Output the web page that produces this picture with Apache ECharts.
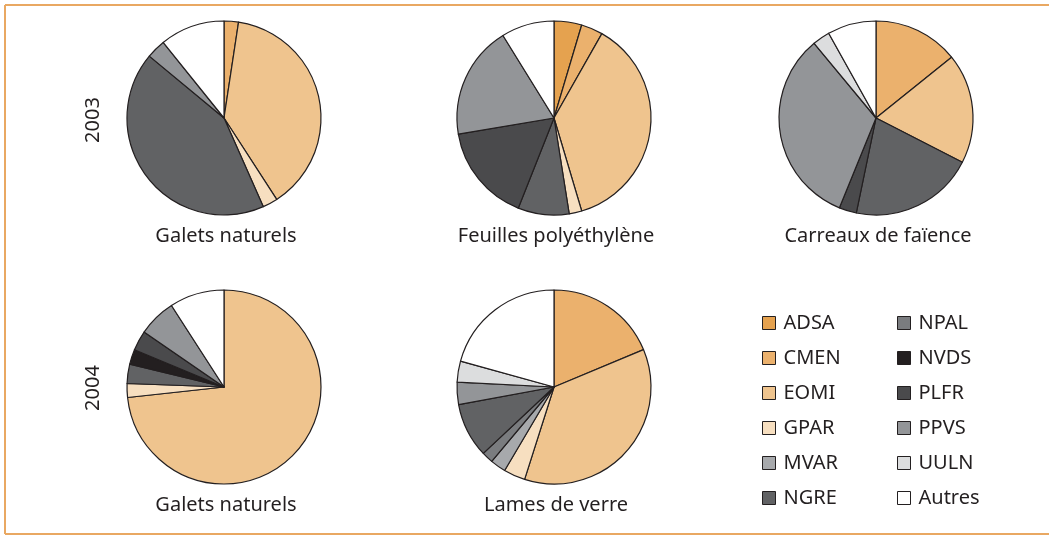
<!DOCTYPE html>
<html>
<head>
<meta charset="utf-8">
<script src="https://cdn.jsdelivr.net/npm/echarts@6/dist/echarts.min.js"></script>
<style>
  html, body { margin: 0; padding: 0; background: #fff; }
  #chart { width: 1049px; height: 536px; }
</style>
</head>
<body>
<div id="chart"></div>
<script>
// legend names and colours
const names = ['ADSA', 'CMEN', 'EOMI', 'GPAR', 'MVAR', 'NGRE', 'NPAL', 'NVDS', 'PLFR', 'PPVS', 'UULN', 'Autres']
const colors = ['#e5a24f', '#ebb16d', '#efc48e', '#f7dfc0', '#a7a9ac', '#616264', '#7a7c7f', '#231f20', '#4a4a4c', '#939598', '#dcddde', '#ffffff']

// shares (%), clockwise from 12 o'clock
const galets2003Names = ['CMEN', 'EOMI', 'GPAR', 'NGRE', 'PPVS', 'Autres']
const galets2003 = [2.4, 38.5, 2.5, 42.7, 3.2, 10.8]

const feuillesNames = ['ADSA', 'CMEN', 'EOMI', 'GPAR', 'NGRE', 'PLFR', 'PPVS', 'Autres']
const feuilles = [4.6, 3.6, 37.1, 2.1, 8.5, 16.3, 18.8, 8.8]

const carreauxNames = ['CMEN', 'EOMI', 'NGRE', 'PLFR', 'PPVS', 'UULN', 'Autres']
const carreaux = [14.2, 18.3, 20.7, 2.9, 32.8, 2.9, 8.1]

const galets2004Names = ['EOMI', 'GPAR', 'NGRE', 'NVDS', 'PLFR', 'PPVS', 'Autres']
const galets2004 = [73.2, 2.3, 3.2, 2.5, 3.3, 6.3, 9.1]

const lamesNames = ['CMEN', 'EOMI', 'GPAR', 'MVAR', 'NPAL', 'NGRE', 'PPVS', 'UULN', 'Autres']
const lames = [18.7, 36.2, 3.6, 2.6, 1.9, 9.1, 3.7, 3.5, 20.7]

const titles = ['Galets naturels', 'Feuilles polyéthylène', 'Carreaux de faïence', 'Galets naturels', 'Lames de verre']
const years = ['2003', '2004']

const colorOf = {}
names.forEach((n, i) => { colorOf[n] = colors[i] })

const pies = [
  { labels: galets2003Names, values: galets2003, center: [224, 118] },
  { labels: feuillesNames, values: feuilles, center: [554, 118] },
  { labels: carreauxNames, values: carreaux, center: [876, 118] },
  { labels: galets2004Names, values: galets2004, center: [224, 387] },
  { labels: lamesNames, values: lames, center: [554, 387] }
]

const font = 'Noto Sans'
const chart = echarts.init(document.getElementById('chart'))

const series = pies.map((p, k) => ({
  name: titles[k],
  type: 'pie',
  center: p.center,
  radius: 97,
  startAngle: 90,
  clockwise: true,
  animation: false,
  silent: true,
  label: { show: false },
  labelLine: { show: false },
  itemStyle: { borderColor: '#231f20', borderWidth: 1.2 },
  data: p.labels.map((n, i) => ({
    name: n,
    value: p.values[i],
    itemStyle: { color: colorOf[n] }
  }))
}))

const graphics = []
// orange frame (top, left, bottom)
const frame = { stroke: '#e9a862', lineWidth: 2 }
graphics.push({ type: 'line', shape: { x1: 5, y1: 5, x2: 1049, y2: 5 }, style: frame })
graphics.push({ type: 'line', shape: { x1: 5, y1: 5, x2: 5, y2: 534 }, style: frame })
graphics.push({ type: 'line', shape: { x1: 5, y1: 534, x2: 1049, y2: 534 }, style: frame })

pies.forEach((p, k) => {
  graphics.push({
    type: 'text',
    x: p.center[0] + 2,
    y: p.center[1] + 118,
    style: {
      text: titles[k],
      textAlign: 'center',
      textVerticalAlign: 'middle',
      font: '20px "' + font + '"',
      fill: '#231f20'
    }
  })
})

years.forEach((y, k) => {
  graphics.push({
    type: 'text',
    x: 93,
    y: k === 0 ? 120 : 388,
    rotation: Math.PI / 2,
    style: {
      text: y,
      textAlign: 'center',
      textVerticalAlign: 'middle',
      font: '20px "' + font + '"',
      fill: '#231f20'
    }
  })
})

const legendBase = {
  orient: 'vertical',
  top: 308,
  icon: 'rect',
  itemWidth: 13,
  itemHeight: 13,
  itemGap: 15,
  selectedMode: false,
  textStyle: { fontFamily: font, fontSize: 20, color: '#231f20', padding: [0, 0, 0, 3] },
  itemStyle: { borderColor: '#231f20', borderWidth: 1 }
}

chart.setOption({
  backgroundColor: '#ffffff',
  legend: [
    Object.assign({}, legendBase, { left: 757, data: names.slice(0, 6) }),
    Object.assign({}, legendBase, { left: 892, data: names.slice(6) })
  ],
  series: series,
  graphic: graphics
})
</script>
</body>
</html>
